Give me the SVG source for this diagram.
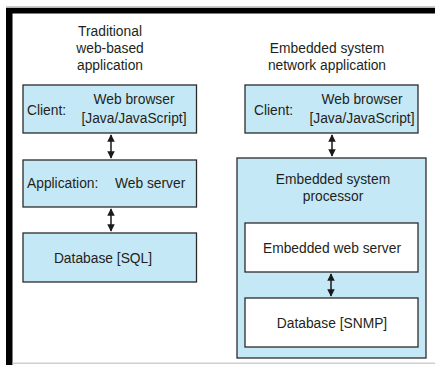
<svg xmlns="http://www.w3.org/2000/svg" width="435" height="365" viewBox="0 0 435 365">
  <style>
    .box { fill: #c5e8f7; stroke: #2b2b2b; stroke-width: 1.3; }
    .inner { fill: #ffffff; stroke: #2b2b2b; stroke-width: 1.3; }
    text { font-family: "Liberation Sans", Arial, sans-serif; font-size: 13.8px; fill: #231f20; }
    .c { text-anchor: middle; }
    .link { stroke: #1a1a1a; stroke-width: 1.5; fill: none; marker-start: url(#head); marker-end: url(#head); }
  </style>
  <defs>
    <marker id="head" viewBox="0 0 10 10" refX="9" refY="5" markerWidth="5" markerHeight="5" orient="auto-start-reverse" markerUnits="strokeWidth">
      <path d="M0,0 L10,5 L0,10 Z" fill="#1a1a1a"/>
    </marker>
  </defs>

  <!-- page frame -->
  <g id="frame">
    <rect x="6" y="6.5" width="429" height="1.2" fill="#9a9a9a"/>
    <rect x="6" y="8" width="429" height="5.5" fill="#000"/>
    <rect x="6" y="8" width="6.5" height="357" fill="#000"/>
    <rect x="12.5" y="362.5" width="422.5" height="1.5" fill="#cfcfcf"/>
  </g>

  <!-- column headings -->
  <g id="title-traditional">
    <text class="c" x="110" y="36">Traditional</text>
    <text class="c" x="110" y="53">web-based</text>
    <text class="c" x="110" y="70">application</text>
  </g>
  <g id="title-embedded">
    <text class="c" x="327" y="53">Embedded system</text>
    <text class="c" x="327" y="70">network application</text>
  </g>

  <!-- traditional stack -->
  <g id="client-left">
    <rect class="box" x="23" y="85" width="173.5" height="48"/>
    <text x="27" y="114.5">Client:</text>
    <text class="c" x="134" y="104">Web browser</text>
    <text class="c" x="134" y="123">[Java/JavaScript]</text>
  </g>
  <g id="app-server">
    <rect class="box" x="23" y="160" width="173.5" height="47"/>
    <text x="27" y="188">Application:</text>
    <text x="115" y="188">Web server</text>
  </g>
  <g id="db-sql">
    <rect class="box" x="23" y="233" width="173.5" height="49"/>
    <text class="c" x="103" y="263">Database [SQL]</text>
  </g>

  <!-- embedded stack -->
  <g id="client-right">
    <rect class="box" x="245" y="85" width="173" height="48"/>
    <text x="254" y="114.5">Client:</text>
    <text class="c" x="362" y="104">Web browser</text>
    <text class="c" x="362" y="123">[Java/JavaScript]</text>
  </g>
  <g id="processor">
    <rect class="box" x="237" y="158" width="189" height="200"/>
    <text class="c" x="333" y="184">Embedded system</text>
    <text class="c" x="333" y="201">processor</text>
  </g>
  <g id="embedded-web-server">
    <rect class="inner" x="245" y="223" width="173" height="49"/>
    <text class="c" x="332" y="253">Embedded web server</text>
  </g>
  <g id="db-snmp">
    <rect class="inner" x="245" y="298" width="173" height="49"/>
    <text class="c" x="332" y="328">Database [SNMP]</text>
  </g>

  <!-- connectors -->
  <g id="connectors">
    <line class="link" x1="111" y1="135" x2="111" y2="158"/>
    <line class="link" x1="111" y1="209" x2="111" y2="231"/>
    <line class="link" x1="332" y1="135" x2="332" y2="156"/>
    <line class="link" x1="331" y1="274" x2="331" y2="296"/>
  </g>
</svg>
